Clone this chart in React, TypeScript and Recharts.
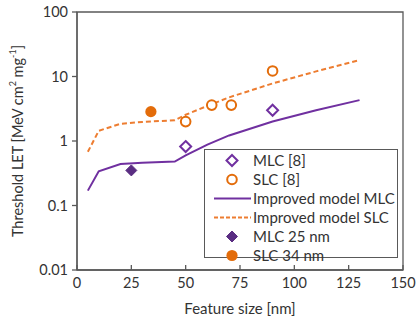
import {
  ComposedChart,
  Line,
  Scatter,
  XAxis,
  YAxis,
  Legend,
  ReferenceArea,
} from "recharts";

// Threshold LET vs. feature size, model curves and measured points
const modelSize = [5, 10, 20, 30, 45, 50, 60, 70, 90, 110, 130];
const modelMlc = [0.17, 0.34, 0.44, 0.46, 0.48, 0.6, 0.88, 1.22, 2.0, 3.0, 4.3];
const modelSlc = [0.68, 1.44, 1.85, 1.97, 2.1, 2.55, 3.5, 4.75, 7.8, 12, 18];

const mlcRefSize = [50, 90];
const mlcRefLet = [0.82, 3.0];
const slcRefSize = [50, 62, 71, 90];
const slcRefLet = [2.0, 3.6, 3.6, 12.2];
const mlcOwnSize = [25];
const mlcOwnLet = [0.35];
const slcOwnSize = [34];
const slcOwnLet = [2.85];

const xTicks = [0, 25, 50, 75, 100, 125, 150];
const yTicks = [0.01, 0.1, 1, 10, 100];

const PURPLE = "#7030A0";
const DARK_PURPLE = "#5A2D82";
const ORANGE = "#ED7D31";
const ORANGE_DARK = "#E36C0A";
const AXIS = "#595959";
const FONT = "Lato, sans-serif";

const zip = (xs: number[], ys: number[]) => xs.map((x, i) => ({ x, y: ys[i] }));

const mlcModelData = zip(modelSize, modelMlc);
const slcModelData = zip(modelSize, modelSlc);
const mlcRefData = zip(mlcRefSize, mlcRefLet);
const slcRefData = zip(slcRefSize, slcRefLet);
const mlcOwnData = zip(mlcOwnSize, mlcOwnLet);
const slcOwnData = zip(slcOwnSize, slcOwnLet);

const diamond = (cx: number, cy: number, r: number) =>
  `${cx},${cy - r} ${cx + r},${cy} ${cx},${cy + r} ${cx - r},${cy}`;

const OpenDiamond = ({ cx, cy }: any) => (
  <polygon points={diamond(cx, cy, 5.5)} fill="#fff" stroke={PURPLE} strokeWidth={2} />
);
const FilledDiamond = ({ cx, cy }: any) => (
  <polygon points={diamond(cx, cy, 5.5)} fill={DARK_PURPLE} stroke={DARK_PURPLE} strokeWidth={1} />
);
const OpenCircle = ({ cx, cy }: any) => (
  <circle cx={cx} cy={cy} r={4.8} fill="#fff" stroke={ORANGE_DARK} strokeWidth={2} />
);
const FilledCircle = ({ cx, cy }: any) => (
  <circle cx={cx} cy={cy} r={5.6} fill={ORANGE_DARK} />
);

// rotated axis title with superscript units
const YLabel = ({ viewBox }: any) => {
  const x = 17;
  const y = viewBox.y + viewBox.height / 2;
  return (
    <text
      x={x}
      y={y}
      transform={`rotate(-90 ${x} ${y})`}
      textAnchor="middle"
      dominantBaseline="central"
      fontFamily={FONT}
      fontSize={14.5}
      fill="#333"
    >
      <tspan>Threshold LET [MeV cm</tspan>
      <tspan dy={-5} fontSize={9}>2</tspan>
      <tspan dy={5}> mg</tspan>
      <tspan dy={-5} fontSize={9}>-1</tspan>
      <tspan dy={5}>]</tspan>
    </text>
  );
};

const legendItems = [
  { name: "MLC [8]", icon: "openDiamond" },
  { name: "SLC [8]", icon: "openCircle" },
  { name: "Improved model MLC", icon: "solid" },
  { name: "Improved model SLC", icon: "dashed" },
  { name: "MLC 25 nm", icon: "filledDiamond" },
  { name: "SLC 34 nm", icon: "filledCircle" },
];

const LegendIcon = ({ icon }: { icon: string }) => (
  <svg width={40} height={19} style={{ display: "block" }}>
    {icon === "openDiamond" && <OpenDiamond cx={19} cy={9.5} />}
    {icon === "openCircle" && <OpenCircle cx={19} cy={9.5} />}
    {icon === "filledDiamond" && <FilledDiamond cx={19} cy={9.5} />}
    {icon === "filledCircle" && <FilledCircle cx={19} cy={9.5} />}
    {icon === "solid" && <line x1={1} x2={38} y1={9.5} y2={9.5} stroke={PURPLE} strokeWidth={2} />}
    {icon === "dashed" && (
      <line x1={1} x2={38} y1={9.5} y2={9.5} stroke={ORANGE} strokeWidth={2} strokeDasharray="4 2" />
    )}
  </svg>
);

const renderLegend = () => (
  <div
    style={{
      width: 194,
      height: 109,
      boxSizing: "border-box",
      border: `1.3px solid ${AXIS}`,
      background: "#fff",
      paddingTop: 1,
      fontFamily: FONT,
      fontSize: 15,
      color: "#333",
    }}
  >
    {legendItems.map((item) => (
      <div key={item.name} style={{ display: "flex", alignItems: "center", height: 19 }}>
        <div style={{ marginLeft: 8, width: 40 }}>
          <LegendIcon icon={item.icon} />
        </div>
        <span style={{ lineHeight: "19px", whiteSpace: "nowrap" }}>{item.name}</span>
      </div>
    ))}
  </div>
);

export default function App() {
  return (
    <div style={{ position: "absolute", left: 0, top: 0, width: 416, height: 320, background: "#fff" }}>
      <ComposedChart width={416} height={320} margin={{ top: 12, right: 13, bottom: 0, left: 0 }}>
        <XAxis
          type="number"
          dataKey="x"
          domain={[0, 150]}
          ticks={xTicks}
          height={50}
          stroke={AXIS}
          strokeWidth={1.3}
          tickSize={-5}
          tickMargin={13}
          tick={{ fill: "#333", fontSize: 14.5, fontFamily: FONT }}
          label={{
            value: "Feature size [nm]",
            position: "insideBottom",
            offset: 6,
            fill: "#333",
            fontSize: 15,
            fontFamily: FONT,
          }}
        />
        <YAxis
          type="number"
          dataKey="y"
          scale="log"
          domain={[0.01, 100]}
          ticks={yTicks}
          allowDataOverflow
          width={77}
          stroke={AXIS}
          strokeWidth={1.3}
          tickSize={5}
          tickMargin={4}
          tick={{ fill: "#333", fontSize: 14.5, fontFamily: FONT }}
          label={<YLabel />}
        />
        <ReferenceArea x1={0} x2={150} y1={0.01} y2={100} fill="none" stroke={AXIS} strokeWidth={1.3} />
        <Line
          data={mlcModelData}
          dataKey="y"
          type="linear"
          stroke={PURPLE}
          strokeWidth={2}
          dot={false}
          isAnimationActive={false}
        />
        <Line
          data={slcModelData}
          dataKey="y"
          type="linear"
          stroke={ORANGE}
          strokeWidth={2}
          strokeDasharray="5 3"
          dot={false}
          isAnimationActive={false}
        />
        <Scatter data={mlcRefData} shape={<OpenDiamond />} isAnimationActive={false} />
        <Scatter data={slcRefData} shape={<OpenCircle />} isAnimationActive={false} />
        <Scatter data={mlcOwnData} shape={<FilledDiamond />} isAnimationActive={false} />
        <Scatter data={slcOwnData} shape={<FilledCircle />} isAnimationActive={false} />
        <Legend
          layout="vertical"
          align="center"
          verticalAlign="middle"
          content={renderLegend}
          wrapperStyle={{ left: 204, top: 149, width: 194, height: 109 }}
        />
      </ComposedChart>
    </div>
  );
}
